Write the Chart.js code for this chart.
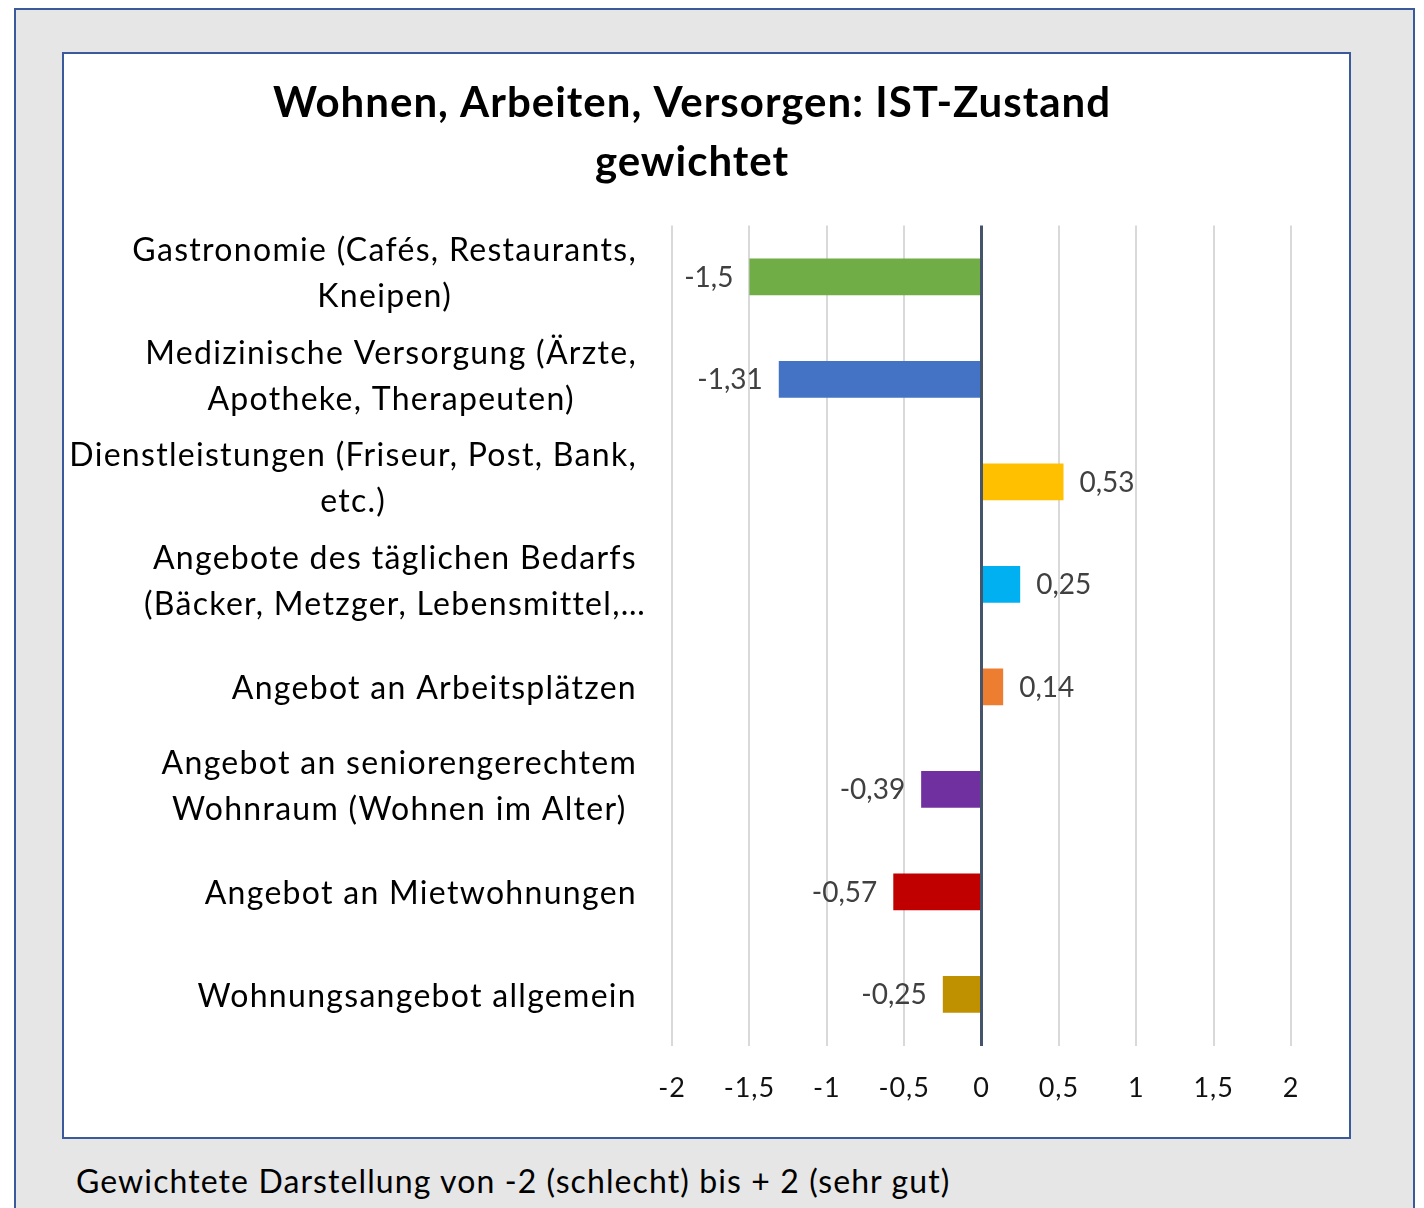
<!doctype html>
<html>

<head>
  <meta charset="utf-8">
  <title>Wohnen, Arbeiten, Versorgen</title>
  <script src="https://cdn.jsdelivr.net/npm/chart.js@4.4.1/dist/chart.umd.min.js"></script>
  <style>
    body {
      margin: 0;
      background: #fff;
      font-family: Lato, sans-serif;
    }
    .outer {
      position: absolute;
      left: 14px;
      top: 8px;
      width: 1397px;
      height: 1220px;
      background: #e6e6e6;
      border: 2px solid #3a5a9b;
    }
    .inner {
      position: absolute;
      left: 62px;
      top: 52px;
      width: 1285px;
      height: 1083px;
      background: #fff;
      border: 2px solid #3a5a9b;
    }
    .chart {
      position: absolute;
      left: 64px;
      top: 54px;
      width: 1256px;
      height: 1083px;
    }
    .note {
      position: absolute;
      left: 76px;
      top: 1161px;
      font-size: 32px;
      letter-spacing: 1.1px;
      color: #000;
    }
  </style>
</head>

<body>
  <div class="outer"></div>
  <div class="inner"></div>
  <div class="chart">
    <canvas id="myChart"></canvas>
  </div>
  <div class="note">Gewichtete Darstellung von -2 (schlecht) bis + 2 (sehr gut)</div>

  <script>
    var categories = [
      ['Gastronomie (Cafés, Restaurants,', 'Kneipen)'],
      ['Medizinische Versorgung (Ärzte,', 'Apotheke, Therapeuten)'],
      ['Dienstleistungen (Friseur, Post, Bank,', 'etc.)'],
      ['Angebote des täglichen Bedarfs', '(Bäcker, Metzger, Lebensmittel,…'],
      ['Angebot an Arbeitsplätzen'],
      ['Angebot an seniorengerechtem', 'Wohnraum (Wohnen im Alter)'],
      ['Angebot an Mietwohnungen'],
      ['Wohnungsangebot allgemein']
    ];
    var values = [-1.5, -1.31, 0.53, 0.25, 0.14, -0.39, -0.57, -0.25];
    var barColors = ['#70ad47', '#4472c4', '#ffc000', '#00b0f0', '#ed7d31', '#7030a0', '#c00000', '#bf9000'];

    function comma(v) {
      return String(v).replace('.', ',');
    }

    // a bit of letter spacing, Calibri in the original runs wide
    var spacing = {
      id: 'spacing',
      beforeDraw: function(chart) {
        chart.ctx.letterSpacing = '1px';
      }
    };

    // category labels: block right-aligned on its first line, lines centered in the block
    var categoryLabels = {
      id: 'categoryLabels',
      afterDraw: function(chart) {
        var ctx = chart.ctx;
        var y = chart.scales.y;
        var right = chart.chartArea.left - 35;
        var lineH = 46;
        ctx.save();
        ctx.font = '32px Lato';
        ctx.letterSpacing = '1.3px';
        ctx.fillStyle = '#000';
        ctx.textAlign = 'center';
        ctx.textBaseline = 'middle';
        categories.forEach(function(lines, i) {
          var w = ctx.measureText(lines[0]).width;
          var cx = right - w / 2;
          var shift = lines.length > 1 ? -3 : 2;
          var cy = y.getPixelForTick(i) - (lines.length - 1) * lineH / 2 + shift;
          lines.forEach(function(l, j) {
            ctx.fillText(l, cx, cy + j * lineH);
          });
        });
        ctx.restore();
      }
    };

    var valueLabels = {
      id: 'valueLabels',
      afterDatasetsDraw: function(chart) {
        var ctx = chart.ctx;
        var meta = chart.getDatasetMeta(0);
        ctx.save();
        ctx.font = '28px Lato';
        ctx.letterSpacing = '0px';
        ctx.fillStyle = '#404040';
        ctx.textBaseline = 'middle';
        meta.data.forEach(function(bar, i) {
          var v = values[i];
          if (v < 0) {
            ctx.textAlign = 'right';
            ctx.fillText(comma(v), bar.x - 16, bar.y + 1);
          } else {
            ctx.textAlign = 'left';
            ctx.fillText(comma(v), bar.x + 16, bar.y + 1);
          }
        });
        ctx.restore();
      }
    };

    var config = {
      type: 'bar',
      data: {
        labels: categories,
        datasets: [{
          data: values,
          backgroundColor: barColors,
          barPercentage: 1,
          categoryPercentage: 0.36
        }]
      },
      options: {
        indexAxis: 'y',
        responsive: true,
        maintainAspectRatio: false,
        animation: false,
        layout: {
          padding: { left: 29, right: 29, top: 0, bottom: 7 }
        },
        scales: {
          x: {
            min: -2,
            max: 2,
            // the tick padding would otherwise also be added on the sides
            afterFit: function(scale) {
              scale.paddingLeft = 0;
              scale.paddingRight = 0;
            },
            ticks: {
              stepSize: 0.5,
              padding: 26,
              color: '#111',
              font: { family: 'Lato', size: 27 },
              callback: function(v) { return comma(v); }
            },
            grid: {
              drawTicks: false,
              color: function(c) { return c.tick && c.tick.value === 0 ? '#44546a' : '#d9d9d9'; },
              lineWidth: function(c) { return c.tick && c.tick.value === 0 ? 3 : 2; }
            },
            border: { display: false }
          },
          y: {
            afterFit: function(scale) { scale.width = 579; },
            ticks: { display: false },
            grid: { display: false, drawTicks: false },
            border: { display: false }
          }
        },
        plugins: {
          legend: { display: false },
          tooltip: { enabled: false },
          title: {
            display: true,
            text: ['Wohnen, Arbeiten, Versorgen: IST-Zustand', 'gewichtet'],
            color: '#000',
            font: { family: 'Lato', size: 42, weight: 'bold', lineHeight: 1.4 },
            padding: { top: 20, bottom: 34 }
          }
        }
      },
      plugins: [spacing, categoryLabels, valueLabels]
    };

    window.onload = function() {
      var ctx = document.getElementById('myChart').getContext('2d');
      window.myChart = new Chart(ctx, config);
    };
  </script>
</body>

</html>
